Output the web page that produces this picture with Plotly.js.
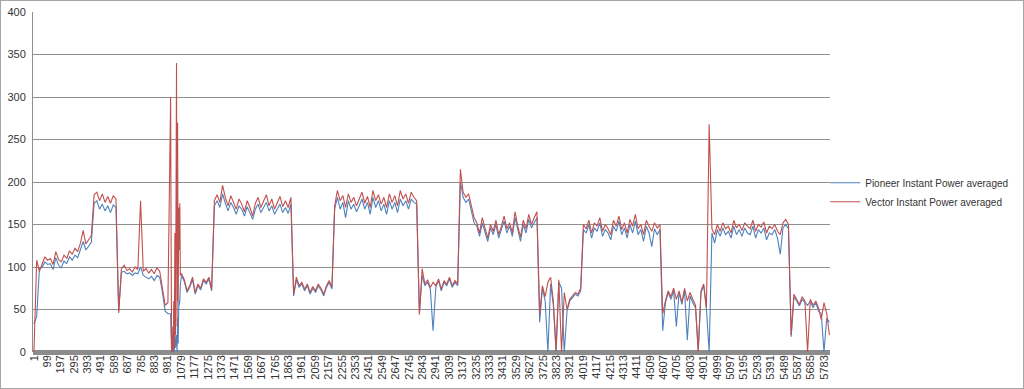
<!DOCTYPE html>
<html>
<head>
<meta charset="utf-8">
<script src="https://cdn.plot.ly/plotly-3.0.1.min.js"></script>
<style>
html,body{margin:0;padding:0;background:#fff;}
#chart{width:1022px;height:387px;border:1px solid #a6a6a6;}
</style>
</head>
<body>
<div id="chart"></div>
<script>
// Main samples: one reading every 20 rows (row index = 1 + i*20)
const sampleStep = 20;

const pioneerMain = [
  33, 42, 98, 100, 106, 103, 104, 97, 111, 102,
  99, 107, 104, 112, 108, 114, 111, 120, 130, 120,
  124, 129, 175, 178, 168, 174, 166, 172, 164, 173,
  170, 48, 94, 95, 92, 93, 90, 93, 92, 100,
  90, 88, 86, 89, 84, 90, 88, 70, 48, 45,
  45, 0, 10, 60, 90, 83, 70, 76, 85, 68,
  78, 73, 84, 80, 86, 72, 172, 178, 170, 186,
  175, 166, 176, 170, 162, 172, 168, 160, 171, 164,
  156, 168, 174, 164, 170, 176, 166, 172, 162, 168,
  174, 164, 170, 163, 174, 66, 85, 76, 80, 72,
  78, 68, 75, 70, 78, 73, 66, 76, 82, 74,
  168, 182, 168, 176, 158, 178, 168, 174, 165, 172,
  180, 168, 176, 162, 182, 170, 178, 166, 174, 162,
  178, 168, 176, 164, 180, 172, 178, 168, 180, 176,
  174, 46, 90, 78, 82, 74, 25, 76, 84, 72,
  82, 78, 86, 76, 82, 78, 200, 182, 176, 180,
  164, 152, 148, 136, 152, 140, 130, 146, 138, 150,
  134, 144, 154, 140, 148, 136, 158, 144, 130, 150,
  140, 156, 146, 152, 158, 35, 75, 60, 0, 80,
  55, 0, 82, 75, 0, 48, 60, 64, 68, 66,
  72, 144, 140, 150, 134, 146, 142, 152, 136, 144,
  140, 132, 148, 142, 154, 138, 146, 134, 150, 140,
  154, 138, 144, 130, 148, 140, 124, 145, 138, 144,
  25, 58, 70, 62, 72, 30, 70, 56, 72, 14,
  66, 58, 52, 2, 70, 78, 50, 0, 140, 128,
  144, 136, 146, 138, 142, 134, 148, 138, 144, 136,
  146, 140, 138, 148, 134, 144, 140, 146, 132, 140,
  138, 144, 134, 115, 146, 150, 145, 18, 65, 60,
  54, 62, 58, 55, 60, 52, 58, 48, 45, 0,
  40, 35
];

const vectorMain = [
  0, 108, 95, 104, 112, 108, 110, 103, 118, 109,
  106, 114, 110, 119, 115, 122, 118, 128, 143, 127,
  132, 137, 185, 188, 178, 186, 176, 183, 175, 184,
  180, 46, 98, 102, 96, 98, 94, 100, 97, 178,
  95, 98, 93, 97, 92, 99, 95, 75, 55, 58,
  300, 10, 200, 170, 92, 85, 72, 78, 88, 70,
  80, 75, 86, 82, 88, 74, 178, 185, 176, 196,
  182, 172, 184, 176, 168, 180, 174, 165, 178, 170,
  160, 175, 182, 170, 178, 185, 172, 180, 168, 176,
  183, 171, 178, 170, 182, 68, 88, 78, 82, 74,
  80, 70, 77, 72, 80, 75, 68, 78, 84, 76,
  172, 190, 178, 184, 170, 186, 176, 182, 172, 180,
  188, 175, 183, 170, 190, 178, 185, 174, 182, 170,
  186, 176, 184, 172, 190, 180, 186, 175, 188, 182,
  178, 44, 98, 80, 85, 76, 82, 78, 86, 74,
  84, 80, 88, 78, 84, 80, 215, 188, 182, 186,
  170, 158, 152, 140, 158, 146, 134, 150, 142, 155,
  138, 148, 160, 145, 152, 140, 165, 148, 135, 155,
  145, 162, 150, 158, 165, 45, 78, 65, 82, 88,
  60, 2, 85, 0, 70, 50, 62, 66, 70, 68,
  75, 150, 145, 155, 140, 152, 148, 158, 142, 150,
  145, 138, 155, 148, 160, 144, 152, 140, 156, 148,
  162, 145, 150, 138, 155, 148, 142, 152, 146, 150,
  45, 60, 72, 65, 75, 62, 72, 58, 75, 60,
  70, 62, 55, 0, 72, 80, 52, 268, 145, 138,
  150, 142, 152, 145, 148, 140, 155, 146, 150, 143,
  152, 148, 145, 155, 142, 150, 147, 153, 140, 148,
  145, 150, 142, 138, 152, 156, 150, 20, 68, 62,
  56, 65, 60, 0, 62, 55, 60, 52, 38, 58,
  45, 20
];

// Extra readings in the dense burst around rows 1000-1075
const burstIndex   = [1004, 1008, 1012, 1016, 1024, 1028, 1032, 1036, 1044, 1048, 1052, 1056, 1064, 1068, 1072];
const pioneerBurst = [20, 0, 10, 0, 15, 0, 30, 5, 20, 0, 40, 10, 55, 60, 80];
const vectorBurst  = [150, 0, 30, 0, 60, 5, 140, 20, 340, 30, 270, 60, 120, 175, 90];

const tickLabels = ['1','99','197','295','393','491','589','687','785','883','981','1079','1177','1275','1373','1471','1569','1667','1765','1863','1961','2059','2157','2255','2353','2451','2549','2647','2745','2843','2941','3039','3137','3235','3333','3431','3529','3627','3725','3823','3921','4019','4117','4215','4313','4411','4509','4607','4705','4803','4901','4999','5097','5195','5293','5391','5489','5587','5685','5783'];

const seriesNames = ['Pioneer Instant Power averaged', 'Vector Instant Power averaged'];
const seriesColors = ['#4F81BD', '#C0504D'];

function buildSeries(main, burst) {
  const pts = main.map((v, i) => [1 + i * sampleStep, v]);
  burstIndex.forEach((ix, k) => pts.push([ix, burst[k]]));
  pts.sort((a, b) => a[0] - b[0]);
  return { x: pts.map(p => p[0]), y: pts.map(p => p[1]) };
}

const pio = buildSeries(pioneerMain, pioneerBurst);
const vec = buildSeries(vectorMain, vectorBurst);

const traces = [
  { type: 'scatter', mode: 'lines', name: seriesNames[0], x: pio.x, y: pio.y,
    line: { color: seriesColors[0], width: 1.1 } },
  { type: 'scatter', mode: 'lines', name: seriesNames[1], x: vec.x, y: vec.y,
    line: { color: seriesColors[1], width: 1.1 } }
];

const layout = {
  width: 1022, height: 387,
  margin: { l: 32, r: 193, t: 11, b: 36, pad: 0, autoexpand: false },
  paper_bgcolor: '#ffffff', plot_bgcolor: '#ffffff',
  font: { family: 'Liberation Sans, Arial, sans-serif', size: 11, color: '#333333' },
  showlegend: true,
  legend: {
    x: 0.994, xanchor: 'left', y: 0.47, yanchor: 'middle',
    font: { size: 10, color: '#333333' }, itemwidth: 30, tracegroupgap: 0,
    bgcolor: 'rgba(0,0,0,0)'
  },
  xaxis: {
    range: [-6, 5825],
    tickmode: 'array',
    tickvals: tickLabels.map(Number),
    ticktext: tickLabels,
    tickangle: -90,
    showgrid: false, zeroline: false, showline: false,
    ticks: '', tickfont: { size: 11, color: '#333333' }
  },
  yaxis: {
    range: [0, 400],
    tickmode: 'array',
    tickvals: [0, 50, 100, 150, 200, 250, 300, 350, 400],
    showgrid: true, gridcolor: '#8f8f8f', gridwidth: 1,
    zeroline: true, zerolinecolor: '#8c8c8c', zerolinewidth: 5,
    showline: true, linecolor: '#8f8f8f', linewidth: 1,
    ticks: '', ticklabelstandoff: 4,
    tickfont: { size: 11, color: '#333333' }
  }
};

Plotly.newPlot('chart', traces, layout, { displayModeBar: false, staticPlot: true });
</script>
</body>
</html>
